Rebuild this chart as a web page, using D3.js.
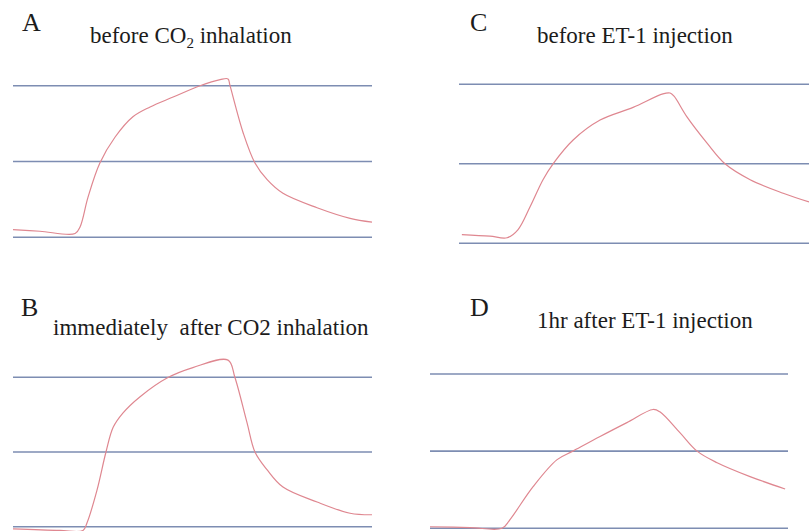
<!DOCTYPE html>
<html>
<head>
<meta charset="utf-8">
<script src="https://cdn.jsdelivr.net/npm/d3@7"></script>
<style>
  body { margin: 0; background: #fff; }
  svg { display: block; }
  svg text, svg tspan { font-family: "Liberation Serif", "DejaVu Serif", serif; }
</style>
</head>
<body>
<div id="chart"></div>
<script>
// traces: time as % of the trace width, value in grid units
// (bottom line = 0, middle = 1, top = 2)
var gridLevels = [0, 1, 2];

var timeA  = [0, 7.5, 17.3, 18.7, 20.9, 24.2, 28.4, 33.4, 38.2, 44.6, 52.1, 57.7, 59.9, 60.4, 64.1, 67.4, 70.8, 75.2, 84.7, 93.9, 100];
var valueA = [0.1, 0.08, 0.05, 0.14, 0.53, 0.98, 1.32, 1.59, 1.72, 1.85, 2.0, 2.08, 2.09, 2.01, 1.38, 0.98, 0.76, 0.58, 0.39, 0.25, 0.2];

var timeB  = [0, 13.1, 19.5, 20.6, 23.4, 25.9, 27.9, 30.6, 35.4, 42.9, 50.1, 59.9, 61.8, 65.2, 67.4, 70.8, 75.2, 84.7, 93.9, 100];
var valueB = [-0.03, -0.05, -0.05, 0.05, 0.49, 1.0, 1.33, 1.52, 1.74, 1.99, 2.13, 2.23, 2.0, 1.39, 1.0, 0.76, 0.53, 0.33, 0.18, 0.16];

var timeC  = [0.8, 8.6, 13.4, 16.4, 19.8, 23.4, 26.2, 31.8, 39.3, 48.5, 56.8, 58.8, 59.9, 63.5, 69.1, 74.1, 81.1, 90.3, 97.5];
var valueC = [0.11, 0.09, 0.07, 0.17, 0.46, 0.8, 1.0, 1.3, 1.55, 1.71, 1.88, 1.89, 1.85, 1.59, 1.26, 1.0, 0.8, 0.63, 0.52];

var timeD  = [0, 11.2, 20.1, 22.3, 28.8, 35.5, 39.9, 47.5, 55.0, 62.3, 64.2, 69.8, 74.6, 80.2, 89.4, 99.2];
var valueD = [0.02, 0.01, 0.0, 0.11, 0.54, 0.89, 1.0, 1.19, 1.37, 1.54, 1.51, 1.24, 1.0, 0.85, 0.67, 0.51];

var panelLetters = ["A", "B", "C", "D"];
var panelTitles = [
  ["before CO", "2", " inhalation"],
  ["immediately\u00a0 after CO2 inhalation"],
  ["before ET-1 injection"],
  ["1hr after ET-1 injection"]
];

var width = 809, height = 531;

var svg = d3.select("#chart").append("svg")
  .attr("width", width)
  .attr("height", height);

// panel placement on the page
var panels = [
  {t: timeA, v: valueA, x0: 13,  x1: 372, yb: 237.3, yt: 85.7,  lx: 22,  ly: 31,  tx: 90,  ty: 43},
  {t: timeB, v: valueB, x0: 13,  x1: 372, yb: 526.7, yt: 377.3, lx: 21,  ly: 316, tx: 53,  ty: 335},
  {t: timeC, v: valueC, x0: 459, x1: 818, yb: 243.3, yt: 84.3,  lx: 470, ly: 31,  tx: 537, ty: 43},
  {t: timeD, v: valueD, x0: 430, x1: 788, yb: 528.3, yt: 374,   lx: 470, ly: 316, tx: 537, ty: 328}
];

panels.forEach(function(p, i) {
  var x = d3.scaleLinear().domain([0, 100]).range([p.x0, p.x1]);
  var y = d3.scaleLinear().domain([0, 2]).range([p.yb, p.yt]);

  var g = svg.append("g");

  g.append("text")
    .attr("x", p.lx).attr("y", p.ly)
    .attr("font-size", 26)
    .attr("fill", "#1c1c1c")
    .text(panelLetters[i]);

  var parts = panelTitles[i];
  var title = g.append("text")
    .attr("x", p.tx).attr("y", p.ty)
    .attr("font-size", 23)
    .attr("fill", "#1c1c1c")
    .text(parts[0]);
  if (parts.length > 1) {
    title.append("tspan").attr("font-size", 15).attr("dy", 5).text(parts[1]);
    title.append("tspan").attr("dy", -5).text(parts[2]);
  }

  g.selectAll("line.grid")
    .data(gridLevels)
    .enter().append("line")
    .attr("class", "grid")
    .attr("x1", x(0)).attr("x2", x(100))
    .attr("y1", function(d) { return y(d); })
    .attr("y2", function(d) { return y(d); })
    .attr("stroke", "#7d8db2")
    .attr("stroke-width", 1.6);

  var pts = p.t.map(function(t, k) { return [t, p.v[k]]; });
  g.append("path")
    .datum(pts)
    .attr("fill", "none")
    .attr("stroke", "#df8790")
    .attr("stroke-width", 1.2)
    .attr("d", d3.line()
      .x(function(d) { return x(d[0]); })
      .y(function(d) { return y(d[1]); })
      .curve(d3.curveCatmullRom.alpha(0.5)));
});
</script>
</body>
</html>
